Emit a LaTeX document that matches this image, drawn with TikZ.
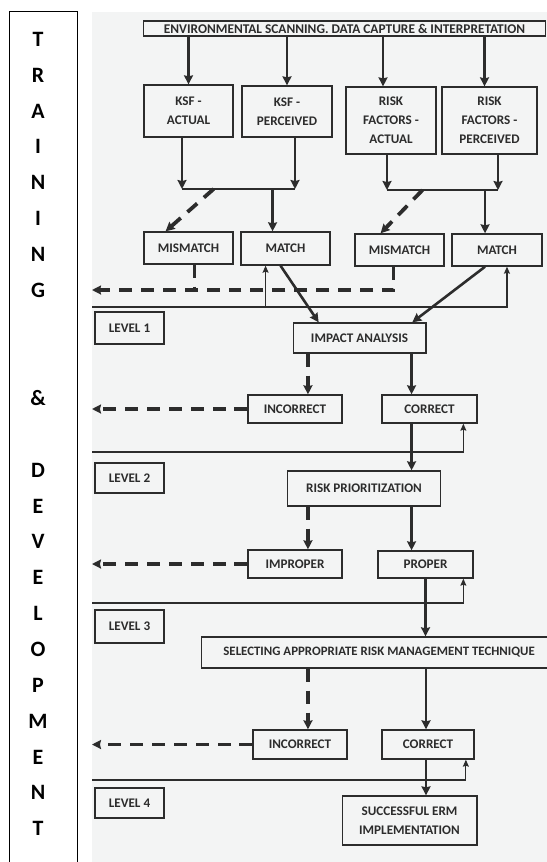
\documentclass[tikz,border=0pt]{standalone}
\usepackage{fontspec}
\setmainfont{Carlito}
\usepackage{xcolor}
\usepackage{tikz}
\usetikzlibrary{arrows.meta,calc}

\definecolor{scan}{RGB}{243,244,244}
\definecolor{ink}{RGB}{44,44,44}

\begin{document}
\begin{tikzpicture}[x=1bp, y=-1bp,
  box/.style={draw=ink, line width=1.5pt, text=ink, align=center, inner sep=0pt,
              font=\fontsize{13.2}{19}\selectfont\bfseries},
  arr/.style={draw=ink, line width=2.6pt, -{Stealth[length=9pt, width=9pt, inset=1pt]}},
  darr/.style={arr, line width=3.8pt, dash pattern=on 13pt off 9pt},
  dline/.style={draw=ink, line width=3.8pt, dash pattern=on 13pt off 9pt},
  bar/.style={draw=ink, line width=2.8pt},
  sep/.style={draw=ink, line width=1.1pt},
  fb/.style={sep, -{Stealth[length=7pt, width=6pt, inset=1pt]}}
]
\useasboundingbox (0,0) rectangle (547,862);
\fill[scan] (92,12) rectangle (547,862);

% side bar
\node[draw=black, line width=1.4pt, minimum width=68, minimum height=860, anchor=north west, inner sep=0pt] (tdbox) at (9,11) {};
\node[font=\fontsize{22}{36}\selectfont\bfseries, align=center, inner sep=0pt] (td) at (38,434)
  {T\\R\\A\\I\\N\\I\\N\\G\\[72bp]\&\\[36bp]D\\E\\V\\E\\L\\O\\P\\M\\E\\N\\T};

% boxes
\node[box, minimum width=403, minimum height=15, font=\fontsize{13.4}{14}\selectfont\bfseries] (env) at (344.5,28.5)
  {ENVIRONMENTAL SCANNING. DATA CAPTURE \& INTERPRETATION};
\node[box, minimum width=89, minimum height=52] (ksfa) at (188.5,111) {KSF -\\ACTUAL};
\node[box, minimum width=90, minimum height=51] (ksfp) at (287,111.5) {KSF -\\PERCEIVED};
\node[box, minimum width=90, minimum height=67] (rfa) at (391,120.5) {RISK\\FACTORS -\\ACTUAL};
\node[box, minimum width=95, minimum height=67] (rfp) at (489.5,120.5) {RISK\\FACTORS -\\PERCEIVED};

\node[box, minimum width=89, minimum height=32] (mis1) at (188.5,248) {MISMATCH};
\node[box, minimum width=89, minimum height=33] (mat1) at (285.5,248.5) {MATCH};
\node[box, minimum width=89, minimum height=32] (mis2) at (399.5,250) {MISMATCH};
\node[box, minimum width=90, minimum height=32] (mat2) at (497,250) {MATCH};

\node[box, minimum width=69, minimum height=32] (lev1) at (129.5,328) {LEVEL 1};
\node[box, minimum width=133, minimum height=30] (impact) at (359.5,338) {IMPACT ANALYSIS};
\node[box, minimum width=94, minimum height=28] (inc1) at (295,409) {INCORRECT};
\node[box, minimum width=95, minimum height=28] (cor1) at (429.5,409) {CORRECT};

\node[box, minimum width=69, minimum height=30] (lev2) at (129.5,478) {LEVEL 2};
\node[box, minimum width=154, minimum height=35] (prio) at (364,488.5) {RISK PRIORITIZATION};
\node[box, minimum width=94, minimum height=28] (impr) at (295,564) {IMPROPER};
\node[box, minimum width=95, minimum height=27] (prop) at (425.5,564.5) {PROPER};

\node[box, minimum width=69, minimum height=33] (lev3) at (129.5,626.5) {LEVEL 3};
\node[box, minimum width=356, minimum height=31, anchor=west, font=\fontsize{12.9}{14}\selectfont\bfseries] (tech) at (201,652.5)
  {SELECTING APPROPRIATE RISK MANAGEMENT TECHNIQUE};
\node[box, minimum width=94, minimum height=29] (inc2) at (300,744.5) {INCORRECT};
\node[box, minimum width=92, minimum height=29] (cor2) at (428,744.5) {CORRECT};

\node[box, minimum width=69, minimum height=30] (lev4) at (129.5,803) {LEVEL 4};
\node[box, minimum width=135, minimum height=49] (erm) at (409.5,820.5) {SUCCESSFUL ERM\\IMPLEMENTATION};

% junction points
\coordinate (b1l) at (182,189);
\coordinate (b1r) at (295,189);
\coordinate (b2l) at (387,190);
\coordinate (b2r) at (498,190);
\coordinate (fbl) at (92,290);
\coordinate (s1) at (92,307);
\coordinate (s2) at (92,452);
\coordinate (s3) at (92,603);
\coordinate (s4) at (92,780);

% scanning to factors
\draw[arr] (ksfa.north |- env.south) -- (ksfa.north);
\draw[arr] (ksfp.north |- env.south) -- (ksfp.north);
\draw[arr] ([xshift=-8pt]rfa.north |- env.south) -- ([xshift=-8pt]rfa.north);
\draw[arr] ([xshift=-5pt]rfp.north |- env.south) -- ([xshift=-5pt]rfp.north);

% factors to match / mismatch
\draw[arr] (ksfa.south -| b1l) -- (b1l);
\draw[arr] (ksfp.south -| b1r) -- (b1r);
\draw[bar] (b1l) -- (b1r);
\draw[arr] ([xshift=-13pt]mat1.north |- b1l) -- ([xshift=-13pt]mat1.north);
\draw[darr] ($(b1l)!0.28!(b1r)$) -- ([xshift=-23pt]mis1.north);
\draw[arr] (rfa.south -| b2l) -- (b2l);
\draw[arr] (rfp.south -| b2r) -- (b2r);
\draw[bar] (b2l) -- (b2r);
\draw[arr] ([xshift=-12pt]mat2.north |- b2l) -- ([xshift=-12pt]mat2.north);
\draw[darr] ($(b2l)!0.32!(b2r)$) -- ([xshift=-19pt]mis2.north);

% level 1
\draw[darr] ([xshift=-6pt]mis2.south) |- (fbl);
\draw[dline] ([xshift=6pt]mis1.south) -- ([xshift=6pt]mis1.south |- fbl);
\draw[fb] (s1) -| ([xshift=10pt]mat2.south);
\draw[fb] ([xshift=-20pt]mat1.south |- s1) -- ([xshift=-20pt]mat1.south);
\draw[arr] ([xshift=-5pt]mat1.south) -- ([xshift=-41pt]impact.north);
\draw[arr] ([xshift=-12pt]mat2.south) -- ([xshift=53pt]impact.north);

% level 2
\draw[darr] ([xshift=13pt]inc1.north |- impact.south) -- ([xshift=13pt]inc1.north);
\draw[arr] ([xshift=-18pt]cor1.north |- impact.south) -- ([xshift=-18pt]cor1.north);
\draw[darr] (inc1.west) -- (inc1.west -| fbl);
\draw[fb] (s2) -| ([xshift=34pt]cor1.south);
\draw[arr] ([xshift=-18pt]cor1.south) -- ([xshift=-18pt]cor1.south |- prio.north);

% level 3
\draw[darr] ([xshift=13pt]impr.north |- prio.south) -- ([xshift=13pt]impr.north);
\draw[arr] ([xshift=-14pt]prop.north |- prio.south) -- ([xshift=-14pt]prop.north);
\draw[darr] (impr.west) -- (impr.west -| fbl);
\draw[fb] (s3) -| ([xshift=38pt]prop.south);
\draw[arr] (prop.south) -- (prop.south |- tech.north);

% level 4
\draw[darr] ([xshift=8pt]inc2.north |- tech.south) -- ([xshift=8pt]inc2.north);
\draw[arr] ([xshift=-2pt]cor2.north |- tech.south) -- ([xshift=-2pt]cor2.north);
\draw[darr] (inc2.west) -- (inc2.west -| fbl);
\draw[fb] (s4) -| ([xshift=38pt]cor2.south);
\draw[arr] ([xshift=-2pt]cor2.south) -- ([xshift=-2pt]cor2.south |- erm.north);
\end{tikzpicture}
\end{document}
